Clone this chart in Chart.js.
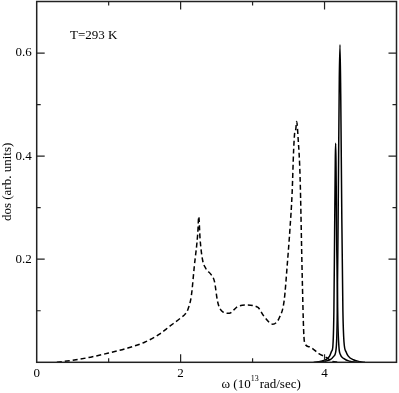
<!DOCTYPE html>
<html>
<head>
<meta charset="utf-8">
<script src="https://cdn.jsdelivr.net/npm/chart.js@4.4.0/dist/chart.umd.min.js"></script>
<style>
  html, body { margin: 0; padding: 0; background: #fff; }
  #wrap { width: 399px; height: 393px; }
</style>
</head>
<body>
<div id="wrap"><canvas id="dosChart" width="399" height="393"></canvas></div>
<script>
// dashed curve (omega in 10^13 rad/sec, dos in arb. units)
const dashOmega = [0.28, 0.5, 0.75, 1.0, 1.25, 1.5, 1.7, 1.85, 2.0, 2.06, 2.10, 2.15, 2.19, 2.238, 2.252, 2.27, 2.303,
  2.35, 2.424, 2.47, 2.515, 2.585, 2.677, 2.79, 2.91, 3.07, 3.16, 3.28, 3.37, 3.44, 3.48, 3.52, 3.55, 3.57, 3.585,
  3.60, 3.612, 3.635, 3.66, 3.69, 3.71, 3.725, 3.79, 3.92, 4.04, 4.1, 4.2];
const dashDos = [0, 0.004, 0.010, 0.018, 0.027, 0.039, 0.054, 0.070, 0.086, 0.093, 0.102, 0.13, 0.186, 0.25, 0.283, 0.24, 0.2,
  0.182, 0.17, 0.157, 0.117, 0.098, 0.095, 0.108, 0.111, 0.107, 0.089, 0.074, 0.086, 0.121, 0.186, 0.26, 0.33, 0.41, 0.445,
  0.452, 0.467, 0.43, 0.36, 0.166, 0.06, 0.037, 0.030, 0.017, 0.008, 0.002, 0];

// solid curve, lower peak
const peakAOmega = [3.85, 3.95, 4.03, 4.07, 4.10, 4.115, 4.13, 4.14, 4.15, 4.155, 4.16, 4.17, 4.185, 4.20, 4.22, 4.27, 4.35, 4.45];
const peakADos = [0, 0.002, 0.006, 0.012, 0.022, 0.03, 0.1, 0.25, 0.4, 0.425, 0.38, 0.22, 0.08, 0.03, 0.015, 0.007, 0.002, 0];

// solid curve, higher peak
const peakBOmega = [3.9, 4.0, 4.08, 4.13, 4.16, 4.175, 4.19, 4.205, 4.215, 4.225, 4.24, 4.255, 4.27, 4.30, 4.33, 4.40, 4.5, 4.56];
const peakBDos = [0, 0.002, 0.005, 0.012, 0.025, 0.08, 0.3, 0.55, 0.616, 0.52, 0.28, 0.1, 0.04, 0.02, 0.012, 0.005, 0.001, 0];

const xTickLabels = ['0', '2', '4'];
const yTickLabels = ['0.2', '0.4', '0.6'];

function toPoints(xs, ys) {
  return xs.map((x, i) => ({ x: x, y: ys[i] }));
}

const serif = '"Liberation Serif", "DejaVu Serif", serif';

// frame, inward ticks on all four sides, and the free texts
const framePlugin = {
  id: 'frame',
  afterDraw(chart) {
    const ctx = chart.ctx;
    const a = chart.chartArea;
    const xs = chart.scales.x;
    const ys = chart.scales.y;
    ctx.save();
    ctx.strokeStyle = '#222';
    ctx.lineWidth = 1.5;
    ctx.strokeRect(a.left, a.top, a.right - a.left, a.bottom - a.top);
    ctx.lineWidth = 1.2;
    for (let v = 1; v < 5; v++) {
      const len = v % 2 === 0 ? 8 : 4;
      const px = xs.getPixelForValue(v);
      ctx.beginPath();
      ctx.moveTo(px, a.bottom); ctx.lineTo(px, a.bottom - len);
      ctx.moveTo(px, a.top); ctx.lineTo(px, a.top + len);
      ctx.stroke();
    }
    for (let k = 1; k < 7; k++) {
      const len = k % 2 === 0 ? 8 : 4;
      const py = ys.getPixelForValue(k / 10);
      ctx.beginPath();
      ctx.moveTo(a.left, py); ctx.lineTo(a.left + len, py);
      ctx.moveTo(a.right, py); ctx.lineTo(a.right - len, py);
      ctx.stroke();
    }
    // temperature label
    ctx.fillStyle = '#000';
    ctx.font = '13px ' + serif;
    ctx.textBaseline = 'alphabetic';
    ctx.textAlign = 'left';
    ctx.fillText('T=293 K', 70, 38.5);
    // x axis title with superscript
    let x = 221.5;
    const base = 388;
    ctx.font = '13px ' + serif;
    ctx.fillText('\u03c9 (10', x, base);
    x += ctx.measureText('\u03c9 (10').width;
    ctx.font = '8px ' + serif;
    ctx.fillText('13', x, base - 7);
    x += ctx.measureText('13').width + 1;
    ctx.font = '13px ' + serif;
    ctx.fillText('rad/sec)', x, base);
    ctx.restore();
  }
};

new Chart(document.getElementById('dosChart'), {
  type: 'line',
  data: {
    datasets: [
      {
        data: toPoints(dashOmega, dashDos),
        borderColor: '#000',
        borderWidth: 1.5,
        borderDash: [5, 3],
        pointRadius: 0,
        cubicInterpolationMode: 'monotone'
      },
      {
        data: toPoints(peakAOmega, peakADos),
        borderColor: '#000',
        borderWidth: 1.5,
        pointRadius: 0,
        cubicInterpolationMode: 'monotone'
      },
      {
        data: toPoints(peakBOmega, peakBDos),
        borderColor: '#000',
        borderWidth: 1.5,
        pointRadius: 0,
        cubicInterpolationMode: 'monotone'
      }
    ]
  },
  options: {
    responsive: false,
    animation: false,
    layout: { padding: { top: 1.5, right: 2.5, left: 0, bottom: 0 } },
    plugins: { legend: { display: false }, tooltip: { enabled: false } },
    scales: {
      x: {
        type: 'linear',
        min: 0,
        max: 5,
        grid: { display: false, drawTicks: false },
        border: { display: false },
        afterFit: s => { s.height = 30.7; s.paddingLeft = 0; s.paddingRight = 0; },
        ticks: {
          stepSize: 2,
          padding: 3,
          color: '#000',
          font: { family: serif, size: 13 },
          maxRotation: 0,
          callback: v => xTickLabels[v / 2] || ''
        }
      },
      y: {
        type: 'linear',
        min: 0,
        max: 0.7,
        grid: { display: false, drawTicks: false },
        border: { display: false },
        afterFit: s => { s.width = 36.7; s.paddingTop = 0; s.paddingBottom = 0; },
        title: {
          display: true,
          text: 'dos (arb. units)',
          color: '#000',
          padding: 0,
          font: { family: serif, size: 13 }
        },
        ticks: {
          stepSize: 0.2,
          padding: 5,
          color: '#000',
          font: { family: serif, size: 13 },
          callback: v => yTickLabels[Math.round(v * 5) - 1] || ''
        }
      }
    }
  },
  plugins: [framePlugin]
});
</script>
</body>
</html>
